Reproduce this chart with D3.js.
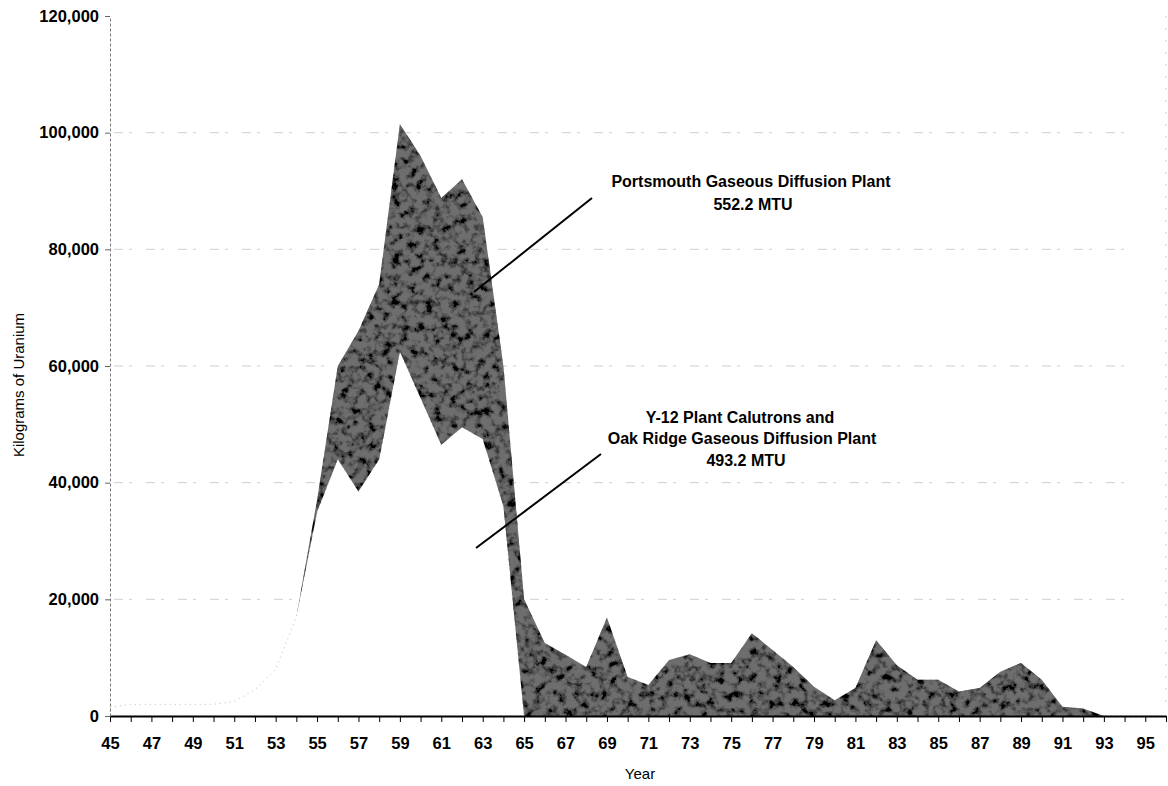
<!DOCTYPE html>
<meta charset="utf-8">
<style>
body{margin:0;background:#fff;}
text{font-family:"Liberation Sans",Arial,sans-serif;fill:#000;}
.axis text{font-weight:bold;font-size:16.5px;}
.grid line{stroke:#cfcfcf;stroke-width:1;stroke-dasharray:9,6,3,14;}
.note{font-weight:bold;font-size:16px;text-anchor:middle;}
</style>
<title>HEU production</title>
<body>
<script src="https://d3js.org/d3.v7.min.js"></script>
<script>

// fiscal years 1945-1996 (two digit labels)
var years = [45,46,47,48,49,50,51,52,53,54,55,56,57,58,59,60,61,62,63,64,65,66,67,68,69,70,
             71,72,73,74,75,76,77,78,79,80,81,82,83,84,85,86,87,88,89,90,91,92,93,94,95,96];

// Y-12 calutrons + Oak Ridge GDP, kg U
var oakRidge = [1500,2000,2000,2000,2000,2000,2500,4500,8000,17000,35000,44000,38500,44000,62500,54500,46500,49500,47500,36000,0,0,
                0,0,0,0,0,0,0,0,0,0,0,0,0,0,0,0,0,0,0,0,0,0,0,0,0,0,0,0,0,0];

// Portsmouth GDP, kg U
var portsmouth = [0,0,0,0,0,0,0,0,0,0,2000,16000,27500,30000,39000,41500,42300,42500,38000,24000,20000,12500,
                  10500,8400,16900,6700,5300,9600,10600,9100,9100,14200,11300,8400,5000,2700,4800,13000,8700,6200,6200,4200,
                  4800,7600,9100,6200,1600,1300,0,0,0,0];

var yTicks = [0,20000,40000,60000,80000,100000,120000];
var gridTicks = [20000,40000,60000,80000,100000];

var x = d3.scaleLinear().domain([45,96]).range([110,1166]);
var y = d3.scaleLinear().domain([0,120000]).range([716,16]);

var rows = years.map(function(yr,i){ return {year:yr, oak:oakRidge[i], ports:portsmouth[i]}; });
var series = d3.stack().keys(["oak","ports"])(rows);

var svg = d3.select("body").append("svg").attr("width",1168).attr("height",786);

// noisy grey like the scanned original
var defs = svg.append("defs");
var f = defs.append("filter").attr("id","grain").attr("x","-2%").attr("y","-2%").attr("width","104%").attr("height","104%");
f.append("feTurbulence").attr("type","fractalNoise").attr("baseFrequency","0.12").attr("numOctaves",4).attr("seed",7).attr("result","noise");
f.append("feColorMatrix").attr("in","noise").attr("type","matrix")
  .attr("values","0 0 0 0 0  0 0 0 0 0  0 0 0 0 0  3.4 0 0 0 -1.45").attr("result","dark");
f.append("feComposite").attr("in","dark").attr("in2","SourceGraphic").attr("operator","in").attr("result","speck");
var m = f.append("feMerge");
m.append("feMergeNode").attr("in","SourceGraphic");
m.append("feMergeNode").attr("in","speck");

// gridlines
svg.append("g").attr("class","grid").selectAll("line").data(gridTicks).enter().append("line")
  .attr("x1",x(45)+4).attr("x2",1135)
  .attr("y1",d=>y(d)).attr("y2",d=>y(d));

var area = d3.area()
  .x(d=>x(d.data.year))
  .y0(d=>y(d[0]))
  .y1(d=>y(d[1]));

svg.append("path").datum(series[0])
  .attr("d",area)
  .attr("fill","#fff")
  .attr("stroke","#aaa")
  .attr("stroke-width",0.8)
  .attr("stroke-dasharray","1,4");

svg.append("path").datum(series[1])
  .attr("d",area)
  .attr("fill","#6e6e6e")
  .attr("filter","url(#grain)");

// axes
var xAxis = svg.append("g").attr("class","axis").attr("transform","translate(0,716)")
  .call(d3.axisBottom(x).tickValues(years).tickSize(6).tickSizeOuter(0)
    .tickFormat(d=> d%2 ? d : ""));
xAxis.select(".domain").attr("stroke","#000").attr("stroke-width",2);
xAxis.selectAll(".tick line").attr("stroke","#000");
xAxis.selectAll(".tick text").attr("y",21);

var yAxis = svg.append("g").attr("class","axis").attr("transform","translate(110,0)")
  .call(d3.axisLeft(y).tickValues(yTicks).tickSize(5).tickSizeOuter(0).tickFormat(d3.format(",")));
yAxis.select(".domain").attr("stroke","#777").attr("stroke-dasharray","3,2");
yAxis.selectAll(".tick line").attr("stroke","#666");
yAxis.selectAll(".tick text").attr("x",-11);

// faint right border
svg.append("line").attr("x1",1166).attr("x2",1166).attr("y1",y(120000)).attr("y2",y(2000))
  .attr("stroke","#ccc").attr("stroke-dasharray","2,10");

svg.append("text").attr("transform","translate(24,385) rotate(-90)")
  .attr("text-anchor","middle").style("font-size","15px").text("Kilograms of Uranium");
svg.append("text").attr("x",640).attr("y",779)
  .attr("text-anchor","middle").style("font-size","15px").text("Year");

// annotations
svg.append("text").attr("class","note").attr("x",751).attr("y",187).text("Portsmouth Gaseous Diffusion Plant");
svg.append("text").attr("class","note").attr("x",753).attr("y",210).text("552.2 MTU");
svg.append("line").attr("x1",592).attr("y1",198).attr("x2",474).attr("y2",292).attr("stroke","#000").attr("stroke-width",2);

svg.append("text").attr("class","note").attr("x",740).attr("y",423).text("Y-12 Plant Calutrons and");
svg.append("text").attr("class","note").attr("x",742).attr("y",444).text("Oak Ridge Gaseous Diffusion Plant");
svg.append("text").attr("class","note").attr("x",746).attr("y",466).text("493.2 MTU");
svg.append("line").attr("x1",601).attr("y1",454).attr("x2",476).attr("y2",548).attr("stroke","#000").attr("stroke-width",2);

</script>
</body>
